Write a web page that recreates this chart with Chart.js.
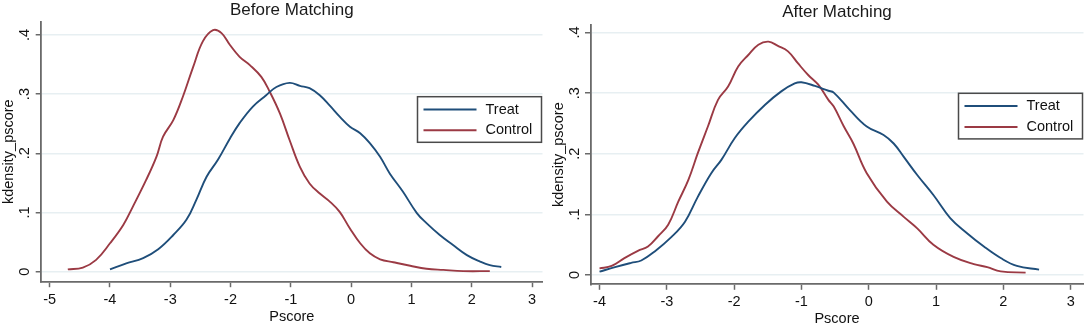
<!DOCTYPE html>
<html>
<head>
<meta charset="utf-8">
<script src="https://cdn.jsdelivr.net/npm/chart.js"></script>
<style>
  body { margin: 0; background: #fff; width: 1084px; height: 328px; overflow: hidden; position: relative; }
  canvas { position: absolute; top: 0; }
  #graficoAntes { left: 0; }
  #graficoDepois { left: 545px; }
</style>
</head>
<body>
<canvas id="graficoAntes" width="545" height="328"></canvas>
<canvas id="graficoDepois" width="539" height="328"></canvas>
<script>
// --- dados ---
const treatBeforeX = [-4.00, -3.73, -3.45, -3.20, -2.95, -2.73, -2.57, -2.40, -2.21, -2.01, -1.85, -1.63, -1.41, -1.24, -1.02, -0.85, -0.69, -0.52, -0.35, -0.19, -0.02, 0.15, 0.31, 0.48, 0.64, 0.86, 1.09, 1.25, 1.47, 1.69, 1.92, 2.14, 2.30, 2.49];
const treatBeforeY = [0.004, 0.014, 0.023, 0.038, 0.062, 0.088, 0.121, 0.160, 0.189, 0.225, 0.251, 0.279, 0.298, 0.312, 0.319, 0.314, 0.310, 0.298, 0.280, 0.262, 0.245, 0.234, 0.217, 0.194, 0.166, 0.135, 0.099, 0.082, 0.062, 0.045, 0.028, 0.017, 0.011, 0.008];

const controlBeforeX = [-4.70, -4.45, -4.23, -4.00, -3.78, -3.62, -3.40, -3.23, -3.12, -2.95, -2.79, -2.62, -2.46, -2.29, -2.15, -2.01, -1.85, -1.68, -1.49, -1.35, -1.18, -1.02, -0.85, -0.69, -0.52, -0.35, -0.19, -0.02, 0.15, 0.31, 0.48, 0.70, 0.98, 1.25, 1.53, 1.86, 2.30];
const controlBeforeY = [0.004, 0.007, 0.020, 0.048, 0.079, 0.110, 0.155, 0.194, 0.228, 0.256, 0.296, 0.346, 0.389, 0.408, 0.403, 0.383, 0.363, 0.349, 0.329, 0.304, 0.267, 0.222, 0.177, 0.149, 0.132, 0.118, 0.101, 0.073, 0.048, 0.031, 0.021, 0.016, 0.010, 0.005, 0.003, 0.001, 0.001];

const treatAfterX = [-4.00, -3.77, -3.53, -3.38, -3.18, -2.93, -2.73, -2.54, -2.34, -2.19, -1.99, -1.79, -1.54, -1.30, -1.10, -1.00, -0.80, -0.60, -0.52, -0.28, -0.03, 0.22, 0.37, 0.52, 0.72, 0.96, 1.21, 1.46, 1.71, 1.96, 2.20, 2.53];
const treatAfterY = [0.0055, 0.013, 0.020, 0.024, 0.039, 0.063, 0.088, 0.129, 0.168, 0.190, 0.226, 0.253, 0.281, 0.303, 0.316, 0.318, 0.312, 0.304, 0.301, 0.272, 0.245, 0.231, 0.217, 0.195, 0.165, 0.132, 0.094, 0.069, 0.047, 0.028, 0.015, 0.009];

const controlAfterX = [-4.00, -3.82, -3.63, -3.43, -3.28, -3.13, -2.98, -2.83, -2.68, -2.54, -2.39, -2.24, -2.09, -1.94, -1.79, -1.64, -1.49, -1.35, -1.20, -1.05, -0.90, -0.75, -0.60, -0.52, -0.37, -0.23, -0.03, 0.27, 0.52, 0.72, 0.96, 1.26, 1.56, 1.76, 1.96, 2.33];
const controlAfterY = [0.011, 0.015, 0.028, 0.040, 0.047, 0.064, 0.083, 0.121, 0.157, 0.201, 0.245, 0.289, 0.311, 0.344, 0.363, 0.380, 0.385, 0.378, 0.369, 0.349, 0.330, 0.314, 0.289, 0.278, 0.245, 0.217, 0.168, 0.121, 0.096, 0.077, 0.050, 0.030, 0.018, 0.013, 0.006, 0.004];

const seriesNames = ['Treat', 'Control'];
const xTicksBefore = [-5, -4, -3, -2, -1, 0, 1, 2, 3];
const xTicksAfter = [-4, -3, -2, -1, 0, 1, 2, 3];
const yTicks = [0, 0.1, 0.2, 0.3, 0.4];
const yTickLabels = ['0', '.1', '.2', '.3', '.4'];

const corTreat = '#1f4e7a';
const corControl = '#9b3a44';
const corEixo = '#6a6a6a';
const fonte = '"Liberation Sans", Arial, sans-serif';

function pontos(xs, ys) {
    return xs.map((x, i) => ({ x: x, y: ys[i] }));
}

// legenda com caixa, dentro da area do grafico
const legendaCaixa = {
    id: 'legendaCaixa',
    afterDraw(chart, args, opts) {
        const c = chart.ctx;
        const area = chart.chartArea;
        const w = 124, h = 45.6;
        const left = area.right - 1 - w;
        const top = opts.top;
        c.save();
        c.fillStyle = '#fff';
        c.fillRect(left, top, w, h);
        c.strokeStyle = '#4a4a4a';
        c.lineWidth = 1.5;
        c.strokeRect(left, top, w, h);
        c.font = '14.5px ' + fonte;
        c.textBaseline = 'middle';
        chart.data.datasets.forEach((ds, i) => {
            const y = top + opts.rows[i];
            c.strokeStyle = ds.borderColor;
            c.lineWidth = 2;
            c.beginPath();
            c.moveTo(left + 6, y);
            c.lineTo(left + 59, y);
            c.stroke();
            c.fillStyle = '#111';
            c.fillText(ds.label, left + 68, y);
        });
        c.restore();
    }
};

function criarGrafico(id, g) {
    const ctx = document.getElementById(id).getContext('2d');
    return new Chart(ctx, {
        type: 'line',
        data: {
            datasets: [
                { label: seriesNames[0], data: pontos(g.treatX, g.treatY), borderColor: corTreat },
                { label: seriesNames[1], data: pontos(g.controlX, g.controlY), borderColor: corControl }
            ]
        },
        plugins: [legendaCaixa],
        options: {
            responsive: false,
            animation: false,
            devicePixelRatio: 1,
            datasets: {
                line: { borderWidth: 1.9, pointRadius: 0, fill: false, tension: 0.4 }
            },
            layout: { padding: { left: 0, right: g.padRight, top: 0, bottom: 0 } },
            plugins: {
                legend: { display: false },
                tooltip: { enabled: false },
                title: {
                    display: true,
                    text: g.title,
                    fullSize: false,
                    color: '#1a1a1a',
                    font: { family: fonte, size: 17, weight: 'normal' },
                    padding: { top: g.titleTop, bottom: g.titleBottom }
                },
                legendaCaixa: { top: g.legendTop, rows: [12.8, 33.6] }
            },
            scales: {
                x: {
                    type: 'linear',
                    min: g.xMin,
                    max: g.xMax,
                    afterBuildTicks: s => { s.ticks = g.xTicks.map(v => ({ value: v })); },
                    afterFit: s => { s.height = g.xAxisHeight; },
                    grid: { drawOnChartArea: false, drawTicks: true, tickLength: 5.5, tickColor: corEixo, tickWidth: 1.5 },
                    border: { display: true, color: corEixo, width: 1.8 },
                    ticks: {
                        color: '#111',
                        font: { family: fonte, size: 14.5 },
                        padding: 3.9,
                        maxRotation: 0,
                        autoSkip: false,
                        callback: v => String(v)
                    },
                    title: {
                        display: true,
                        text: 'Pscore',
                        color: '#111',
                        font: { family: fonte, size: 14.5 },
                        padding: { top: 0, bottom: g.xTitlePad }
                    }
                },
                y: {
                    min: g.yMin,
                    max: g.yMax,
                    afterBuildTicks: s => { s.ticks = yTicks.map(v => ({ value: v })); },
                    afterFit: s => { s.width = g.yAxisWidth; },
                    grid: { color: '#e7eff2', lineWidth: 1.5, drawTicks: true, tickLength: 5.5, tickColor: corEixo, tickWidth: 1.5 },
                    border: { display: true, color: corEixo, width: 1.8 },
                    ticks: {
                        color: '#111',
                        font: { family: fonte, size: 14.5 },
                        padding: g.yTickPad,
                        minRotation: 90,
                        maxRotation: 90,
                        crossAlign: 'center',
                        autoSkip: false,
                        callback: (v, i) => yTickLabels[i]
                    },
                    title: {
                        display: true,
                        text: 'kdensity_pscore',
                        color: '#111',
                        font: { family: fonte, size: 14.5 },
                        padding: { top: g.yTitlePad, bottom: 0 }
                    }
                }
            }
        }
    });
}

criarGrafico('graficoAntes', {
    title: 'Before Matching',
    treatX: treatBeforeX, treatY: treatBeforeY,
    controlX: controlBeforeX, controlY: controlBeforeY,
    xTicks: xTicksBefore,
    xMin: -5.141, xMax: 3.174, yMin: -0.0169, yMax: 0.4223,
    padRight: 2.5, titleTop: 0, titleBottom: 1.3,
    xAxisHeight: 46.3, xTitlePad: 2.3,
    yAxisWidth: 41.2, yTitlePad: 0, yTickPad: 4.6,
    legendTop: 96.7
});

criarGrafico('graficoDepois', {
    title: 'After Matching',
    treatX: treatAfterX, treatY: treatAfterY,
    controlX: controlAfterX, controlY: controlAfterY,
    xTicks: xTicksAfter,
    xMin: -4.134, xMax: 3.19, yMin: -0.0153, yMax: 0.4125,
    padRight: 0.5, titleTop: 2.5, titleBottom: 2.1,
    xAxisHeight: 43.7, xTitlePad: 0.3,
    yAxisWidth: 45.5, yTitlePad: 5.5, yTickPad: 4.0,
    legendTop: 93.3
});
</script>
</body>
</html>
